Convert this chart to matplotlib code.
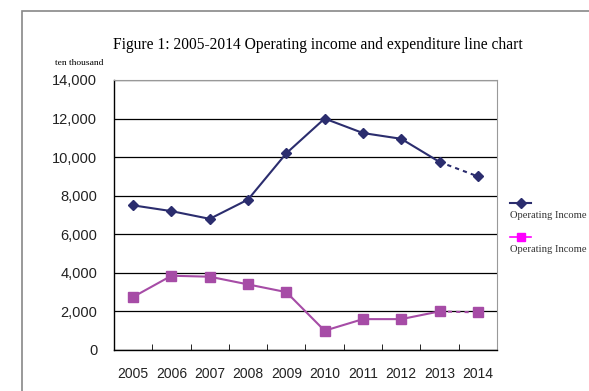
import numpy as np
import matplotlib.pyplot as plt
from matplotlib.lines import Line2D
from matplotlib.patches import Rectangle

years = ['2005', '2006', '2007', '2008', '2009', '2010', '2011', '2012', '2013', '2014']
income = [7500, 7200, 6800, 7800, 10200, 12000, 11250, 10950, 9750, 9000]
expenditure = [2750, 3850, 3800, 3400, 3000, 1000, 1600, 1600, 2000, 1950]
legend_labels = ['Operating Income', 'Operating Income']

navy = '#2b2d6e'
purple = '#a64ca6'
magenta = '#ff00ff'

fig = plt.figure(figsize=(5.89, 3.91), dpi=100)
ax = fig.add_axes([0.1935, 0.1049, 0.6503, 0.6905])

x = np.arange(len(years))

# solid part, last segment dotted
ax.plot(x[:-1], income[:-1], color=navy, lw=1.5, marker='D', ms=5, zorder=3)
ax.plot(x[-2:], income[-2:], color=navy, lw=1.5, ls=(0, (2, 2)), zorder=3)
ax.plot(x[-1], income[-1], color=navy, marker='D', ms=5, zorder=3)

ax.plot(x[:-1], expenditure[:-1], color=purple, lw=1.5, marker='s', ms=7, zorder=3)
ax.plot(x[-2:], expenditure[-2:], color=purple, lw=1.5, ls=(0, (2, 2)), zorder=3)
ax.plot(x[-1], expenditure[-1], color=purple, marker='s', ms=7, zorder=3)

ax.set_xlim(-0.5, len(years) - 0.5)
ax.set_ylim(0, 14000)
ax.set_yticks(np.arange(0, 14001, 2000))
ax.set_yticklabels([f'{v:,}' for v in range(0, 14001, 2000)],
                   fontsize=10.5, family='Liberation Sans', color='#222222')
ax.yaxis.grid(True, color='black', lw=0.9)
ax.set_axisbelow(True)

ax.set_xticks(x)
ax.set_xticklabels(years, fontsize=10, family='Liberation Sans', color='#222222')
ax.tick_params(axis='x', length=0, pad=12)
ax.set_xticks(np.arange(-0.5, len(years)), minor=True)
ax.tick_params(axis='x', which='minor', direction='in', length=4, color='black')
ax.tick_params(axis='y', length=0, pad=12)

for s in ['top', 'right']:
    ax.spines[s].set_color('#999999')
for s in ['left', 'bottom']:
    ax.spines[s].set_color('black')
    ax.spines[s].set_linewidth(1.0)

fig.text(0.54, 0.885, 'Figure 1: 2005-2014 Operating income and expenditure line chart',
         ha='center', va='center', fontsize=11.2, family='Liberation Serif')
fig.text(0.094, 0.840, 'ten thousand', ha='left', va='center',
         fontsize=6.8, family='Liberation Serif')

# outer frame
fig.add_artist(Rectangle((22 / 589, -0.05), 1.0, 1 - 11 / 391 + 0.05,
                         transform=fig.transFigure, fill=False,
                         edgecolor='#888888', lw=1.2))

# legend
fig.add_artist(Line2D([510 / 589, 531 / 589], [1 - 203 / 391] * 2, color=navy,
                      lw=1.5, transform=fig.transFigure))
fig.add_artist(Line2D([520.5 / 589], [1 - 203 / 391], color=navy, marker='D', ms=5,
                      transform=fig.transFigure))
fig.text(510 / 589, 1 - 216 / 391, legend_labels[0], fontsize=7.6,
         family='Liberation Serif', va='center', ha='left', color='#333333')
fig.add_artist(Line2D([510 / 589, 531 / 589], [1 - 237 / 391] * 2, color=magenta,
                      lw=1.2, transform=fig.transFigure))
fig.add_artist(Line2D([520.5 / 589], [1 - 237 / 391], color=magenta, marker='s', ms=6,
                      transform=fig.transFigure))
fig.text(510 / 589, 1 - 250 / 391, legend_labels[1], fontsize=7.6,
         family='Liberation Serif', va='center', ha='left', color='#333333')

fig.savefig('out.png', dpi=100)
